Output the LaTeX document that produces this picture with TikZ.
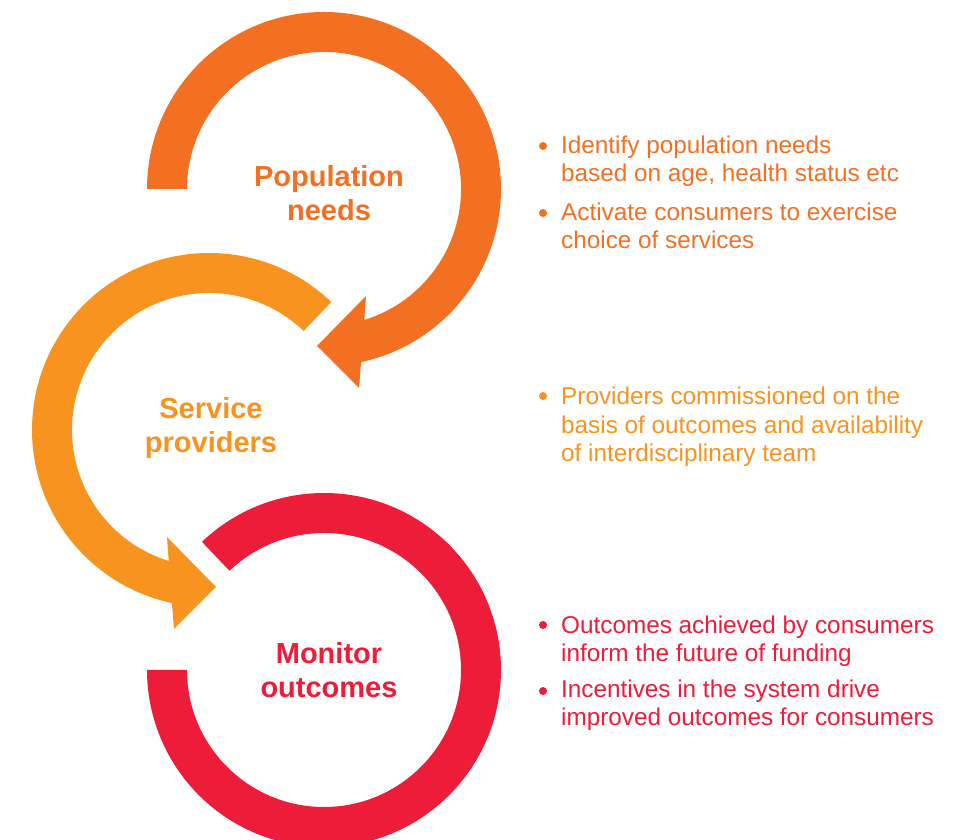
\documentclass[tikz,border=0pt]{standalone}
\usepackage{fontspec}
\setmainfont{Liberation Sans}
\definecolor{popc}{RGB}{243,112,35}
\definecolor{serc}{RGB}{247,147,30}
\definecolor{monc}{RGB}{237,28,57}
\begin{document}
\begin{tikzpicture}[x=1pt,y=1pt,
  ringlabel/.style={font=\bfseries\fontsize{29}{34}\selectfont, align=center, inner sep=0pt, anchor=base},
  bullettext/.style={font=\fontsize{24.3}{28.5}\selectfont, align=left, anchor=base west, inner sep=0pt},
  bulletdot/.style={circle, fill, inner sep=0pt, minimum size=8pt}]
\useasboundingbox (0,0) rectangle (954,840);
\clip (0,0) rectangle (954,840);
% top ring: population needs
\begin{scope}[shift={(324,651)}]
\fill[popc] (180:177pt) arc[start angle=180, end angle=-77.9, radius=177pt]
  -- (35,-199) -- (-7,-157) -- (42,-107) -- (-72.9:137pt)
  arc[start angle=-72.9, end angle=180, radius=137pt] -- cycle;
\end{scope}
% middle ring: service providers
\begin{scope}[shift={(209,410)}]
\fill[serc] (46.3:177pt) arc[start angle=46.3, end angle=257.9, radius=177pt]
  -- (-35,-199) -- (7,-157) -- (-42,-107) -- (252.9:137pt)
  arc[start angle=252.9, end angle=46.3, radius=137pt] -- cycle;
\end{scope}
% bottom ring: monitor outcomes
\begin{scope}[shift={(324,170)}]
\fill[monc] (133.6:177pt) arc[start angle=133.6, end angle=-180, radius=177pt]
  -- (-180:137pt) arc[start angle=-180, end angle=133.6, radius=137pt] -- cycle;
\end{scope}
% ring labels (base anchor = last line's baseline)
\node[ringlabel, text=popc] (pop) at (329,619) {Population\\needs};
\node[ringlabel, text=serc] (ser) at (211,387) {Service\\providers};
\node[ringlabel, text=monc] (mon) at (329,142) {Monitor\\outcomes};
% bullets
\node[bulletdot, popc] (d1) at (543,694) {};
\node[bullettext, text=popc] (t1) at (561,658) {Identify population needs\\based on age, health status etc};
\node[bulletdot, popc] (d2) at (543,627) {};
\node[bullettext, text=popc] (t2) at (561,591) {Activate consumers to exercise\\choice of services};
\node[bulletdot, serc] (d3) at (543,444) {};
\node[bullettext, text=serc] (t3) at (561,378) {Providers commissioned on the\\basis of outcomes and availability\\of interdisciplinary team};
\node[bulletdot, monc] (d4) at (543,215) {};
\node[bullettext, text=monc] (t4) at (561,178) {Outcomes achieved by consumers\\inform the future of funding};
\node[bulletdot, monc] (d5) at (543,149) {};
\node[bullettext, text=monc] (t5) at (561,114) {Incentives in the system drive\\improved outcomes for consumers};
\end{tikzpicture}
\end{document}
